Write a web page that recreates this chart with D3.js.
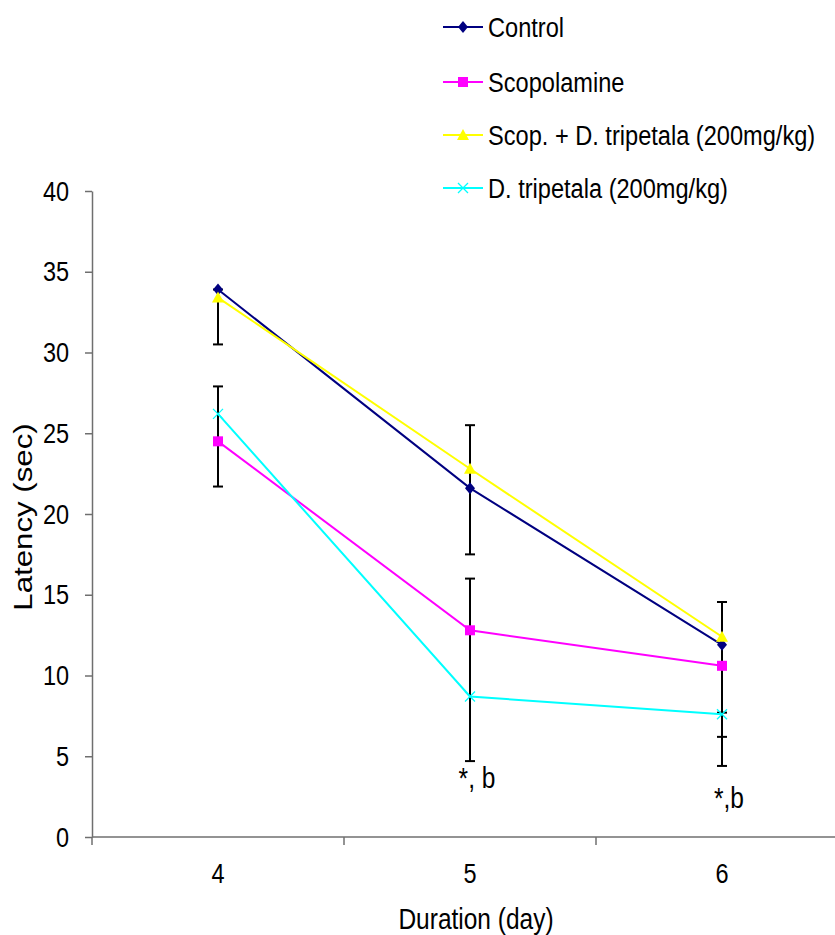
<!DOCTYPE html>
<html>
<head>
<meta charset="utf-8">
<script src="https://cdn.jsdelivr.net/npm/d3@7"></script>
<style>
  html, body { margin: 0; padding: 0; background: #fff; }
  svg { display: block; font-family: "Liberation Sans", Arial, sans-serif; }
</style>
</head>
<body>
<div id="chart"></div>
<script>
const days = [4, 5, 6];
const yTicks = [0, 5, 10, 15, 20, 25, 30, 35, 40];

const seriesNames = ['Control', 'Scopolamine', 'Scop. + D. tripetala (200mg/kg)', 'D. tripetala (200mg/kg)'];
const controlValues   = [33.9, 21.6, 11.9];
const scopValues      = [24.5, 12.8, 10.6];
const scopDtValues    = [33.4, 22.8, 12.4];
const dtValues        = [26.2, 8.7, 7.6];

// error bars as [day, low, high]
const errorBars = [
  [4, 30.5, 33.9],
  [4, 21.7, 27.9],
  [5, 17.5, 25.5],
  [5, 4.7, 16.0],
  [6, 6.2, 14.55],
  [6, 4.4, 7.7]
];

// significance labels: [day, y value, text]
const notes = [
  [5, 3.05, '*, b'],
  [6, 1.8, '*,b']
];

const WIDTH = 835, HEIGHT = 935;
const SY = 1.2; // text in the picture is a bit taller than wide

const series = [
  { name: seriesNames[0], values: controlValues, color: '#000080', symbol: 'diamond' },
  { name: seriesNames[1], values: scopValues,    color: '#ff00ff', symbol: 'square' },
  { name: seriesNames[2], values: scopDtValues,  color: '#ffff00', symbol: 'triangle' },
  { name: seriesNames[3], values: dtValues,      color: '#00ffff', symbol: 'cross' }
];

const svg = d3.select('#chart').append('svg')
  .attr('width', WIDTH)
  .attr('height', HEIGHT);

const x = d3.scaleBand().domain(days).range([92, 848]).padding(0);
const y = d3.scaleLinear().domain([0, 40]).range([837, 191]);
const cx = d => x(d) + x.bandwidth() / 2;

function drawMarker(g, symbol, color) {
  if (symbol === 'diamond') {
    g.append('path').attr('d', 'M0,-6L5,0L0,6L-5,0Z').attr('fill', color);
  } else if (symbol === 'square') {
    g.append('rect').attr('x', -5).attr('y', -5).attr('width', 10).attr('height', 10).attr('fill', color);
  } else if (symbol === 'triangle') {
    g.append('path').attr('d', 'M0,-6L6,5L-6,5Z').attr('fill', color);
  } else {
    g.append('path').attr('d', 'M-5,-5L5,5M-5,5L5,-5').attr('stroke', color).attr('stroke-width', 1.3).attr('fill', 'none');
  }
}

// Y axis
const yAxis = svg.append('g')
  .attr('transform', 'translate(92,0)')
  .call(d3.axisLeft(y).tickValues(yTicks).tickSize(7).tickPadding(16).tickSizeOuter(0));
yAxis.select('.domain').attr('stroke', '#6f6f6f').attr('stroke-width', 1.5);
yAxis.selectAll('.tick line').attr('stroke', '#6f6f6f').attr('stroke-width', 1.5);
yAxis.selectAll('.tick text')
  .attr('font-size', '23.5px')
  .attr('fill', '#000')
  .attr('font-family', '"Liberation Sans", Arial, sans-serif')
  .attr('transform', `scale(1,${SY})`);

// X axis
svg.append('line')
  .attr('x1', 92).attr('x2', 848).attr('y1', y(0)).attr('y2', y(0))
  .attr('stroke', '#6f6f6f').attr('stroke-width', 1.5);
const xTickPos = days.map(d => x(d)).concat([x(days[days.length - 1]) + x.bandwidth()]);
svg.append('g').selectAll('line').data(xTickPos).join('line')
  .attr('x1', d => d).attr('x2', d => d)
  .attr('y1', y(0)).attr('y2', y(0) + 8)
  .attr('stroke', '#6f6f6f').attr('stroke-width', 1.5);
svg.append('g').selectAll('text').data(days).join('text')
  .attr('transform', d => `translate(${cx(d)},883) scale(1,${SY})`)
  .attr('text-anchor', 'middle')
  .attr('font-size', '23.5px')
  .text(d => d);

// Axis titles
svg.append('text')
  .attr('transform', `translate(476,929) scale(1,${SY})`)
  .attr('text-anchor', 'middle')
  .attr('font-size', '24.5px')
  .text('Duration (day)');
svg.append('text')
  .attr('transform', `translate(32,517) scale(1,${SY + 0.05}) rotate(-90)`)
  .attr('text-anchor', 'middle')
  .attr('font-size', '25px')
  .text('Latency (sec)');

// Error bars
const eb = svg.append('g').attr('stroke', '#000').attr('stroke-width', 2);
errorBars.forEach(([d, lo, hi]) => {
  eb.append('line').attr('x1', cx(d)).attr('x2', cx(d)).attr('y1', y(lo)).attr('y2', y(hi));
  eb.append('line').attr('x1', cx(d) - 5).attr('x2', cx(d) + 5).attr('y1', y(lo)).attr('y2', y(lo));
  eb.append('line').attr('x1', cx(d) - 5).attr('x2', cx(d) + 5).attr('y1', y(hi)).attr('y2', y(hi));
});

// Lines and markers
const line = d3.line().x((v, i) => cx(days[i])).y(v => y(v));
series.forEach(s => {
  svg.append('path')
    .datum(s.values)
    .attr('fill', 'none')
    .attr('stroke', s.color)
    .attr('stroke-width', 2)
    .attr('d', line);
});
series.forEach(s => {
  s.values.forEach((v, i) => {
    const g = svg.append('g').attr('transform', `translate(${cx(days[i])},${y(v)})`);
    drawMarker(g, s.symbol, s.color);
  });
});

// Significance notes
notes.forEach(([d, v, t]) => {
  svg.append('text')
    .attr('transform', `translate(${cx(d) + 7},${y(v)}) scale(1,${SY})`)
    .attr('text-anchor', 'middle')
    .attr('font-size', '24.5px')
    .text(t);
});

// Legend
const legend = svg.append('g').attr('transform', 'translate(443,0)');
const legendRows = [27, 82, 135, 188];
series.forEach((s, i) => {
  const row = legend.append('g').attr('transform', `translate(0,${legendRows[i]})`);
  row.append('line').attr('x1', 0).attr('x2', 40).attr('y1', 0).attr('y2', 0)
    .attr('stroke', s.color).attr('stroke-width', 2);
  const m = row.append('g').attr('transform', 'translate(20,0)');
  drawMarker(m, s.symbol, s.color);
  row.append('text')
    .attr('transform', `translate(45,10) scale(1,${SY - 0.05})`)
    .attr('font-size', '23.6px')
    .text(s.name);
});
</script>
</body>
</html>
